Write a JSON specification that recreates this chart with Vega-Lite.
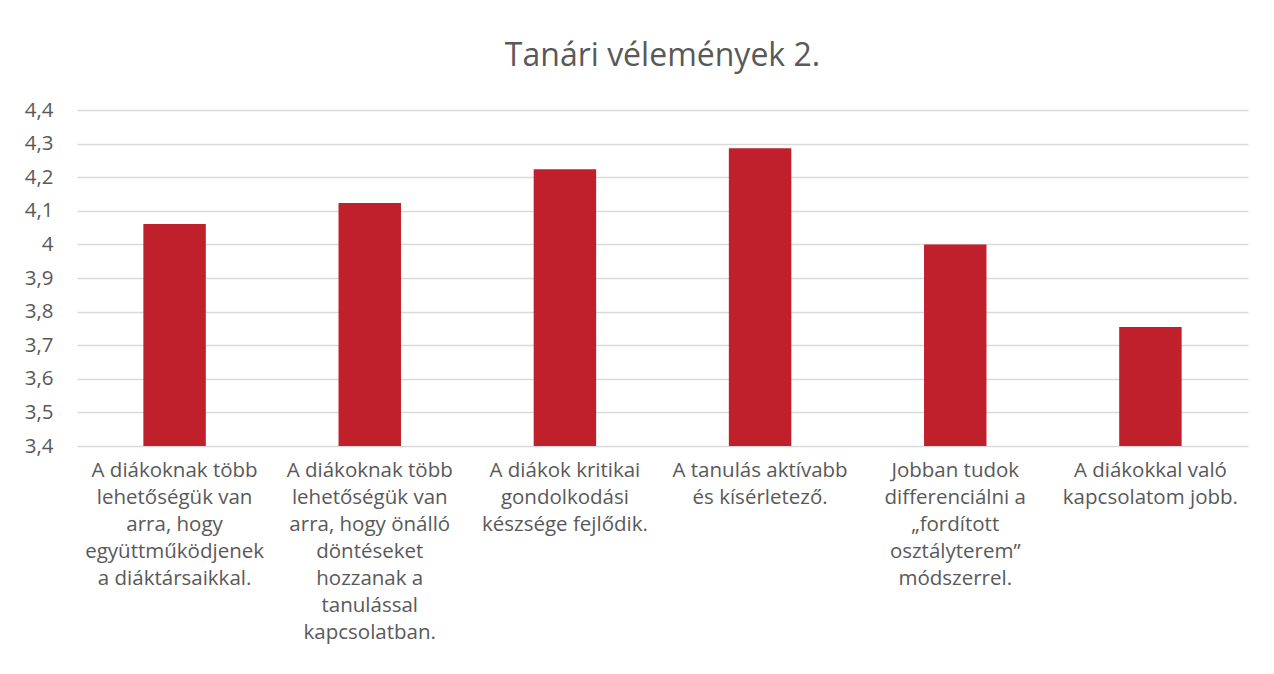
{
  "$schema": "https://vega.github.io/schema/vega-lite/v6.json",
  "autosize": "none",
  "width": 1171,
  "height": 336,
  "padding": {"left": 77, "top": 110, "right": 26, "bottom": 228},
  "background": "white",
  "title": {
    "text": "Tanári vélemények 2.",
    "font": "Open Sans",
    "fontSize": 32,
    "fontWeight": "normal",
    "color": "#595959",
    "anchor": "middle",
    "offset": 27
  },
  "data": {
    "values": [
      {"cat": "A diákoknak több|lehetőségük van|arra, hogy|együttműködjenek|a diáktársaikkal.", "value": 4.061},
      {"cat": "A diákoknak több|lehetőségük van|arra, hogy önálló|döntéseket|hozzanak a|tanulással|kapcsolatban.", "value": 4.123},
      {"cat": "A diákok kritikai|gondolkodási|készsége fejlődik.", "value": 4.224},
      {"cat": "A tanulás aktívabb|és kísérletező.", "value": 4.286},
      {"cat": "Jobban tudok|differenciálni a|„fordított|osztályterem”|módszerrel.", "value": 4.0},
      {"cat": "A diákokkal való|kapcsolatom jobb.", "value": 3.754}
    ]
  },
  "mark": {"type": "bar", "color": "#C0202B"},
  "encoding": {
    "x": {
      "field": "cat",
      "type": "nominal",
      "sort": null,
      "scale": {"paddingInner": 0.68, "paddingOuter": 0.34},
      "axis": {
        "title": null,
        "labelAngle": 0,
        "labelExpr": "split(datum.value, '|')",
        "labelFont": "Open Sans",
        "labelFontSize": 20.5,
        "labelColor": "#595959",
        "labelLineHeight": 27,
        "labelBaseline": "top",
        "labelPadding": 14,
        "labelLimit": 0,
        "ticks": false,
        "domain": false,
        "grid": false
      }
    },
    "y": {
      "field": "value",
      "type": "quantitative",
      "scale": {"domain": [3.4, 4.4], "zero": false, "nice": false},
      "axis": {
        "title": null,
        "values": [3.4, 3.5, 3.6, 3.7, 3.8, 3.9, 4.0, 4.1, 4.2, 4.3, 4.4],
        "labelExpr": "replace(toString(round(datum.value * 10) / 10), '.', ',')",
        "labelFont": "Open Sans",
        "labelFontSize": 20.5,
        "labelColor": "#595959",
        "labelPadding": 24,
        "ticks": false,
        "domain": false,
        "grid": true,
        "gridColor": "#D9D9D9",
        "gridWidth": 1.3
      }
    },
    "y2": {"datum": 3.4}
  },
  "config": {"view": {"stroke": null}}
}
